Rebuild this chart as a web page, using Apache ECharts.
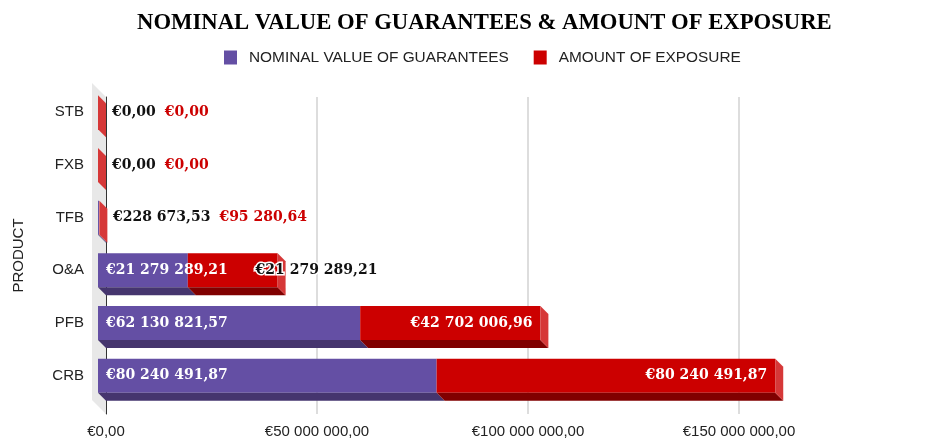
<!DOCTYPE html>
<html>
<head>
<meta charset="utf-8">
<script src="https://cdn.jsdelivr.net/npm/echarts@6/dist/echarts.min.js"></script>
<style>
html, body { margin: 0; padding: 0; background: #fff; }
#chart { width: 948px; height: 439px; }
</style>
</head>
<body>
<div id="chart"></div>
<script>
var categories = ['CRB', 'PFB', 'O&A', 'TFB', 'FXB', 'STB'];
var nominalValues = [80240491.87, 62130821.57, 21279289.21, 228673.53, 0, 0];
var exposureValues = [80240491.87, 42702006.96, 21279289.21, 95280.64, 0, 0];
var xTicks = [0, 50000000, 100000000, 150000000, 200000000];

var DEPTH = 8;
var LABEL_FONT = 'bold 14px "DejaVu Serif"';

// €80 240 491,87
function euro(v) {
    var parts = v.toFixed(2).split('.');
    return '€' + parts[0].replace(/\B(?=(\d{3})+(?!\d))/g, ' ') + ',' + parts[1];
}

var measureCtx = document.createElement('canvas').getContext('2d');
function textWidth(s) {
    measureCtx.font = LABEL_FONT;
    return measureCtx.measureText(s).width;
}

var seriesDefs = [
    { name: 'NOMINAL VALUE OF GUARANTEES', front: '#644fa4', bottom: '#45356e', end: '#7a66b8', top: false },
    { name: 'AMOUNT OF EXPOSURE', front: '#cc0000', bottom: '#800000', end: '#d63838', top: true }
];

function segData(k) {
    return categories.map(function (c, i) {
        var start = k === 0 ? 0 : nominalValues[i];
        var end = k === 0 ? nominalValues[i] : nominalValues[i] + exposureValues[i];
        return [start, end, i];
    });
}

// where the nominal label ended when it was put outside the bar
var outsideEnd = {};

function makeRender(k) {
    var def = seriesDefs[k];
    return function (params, api) {
        var i = api.value(2);
        var p0 = api.coord([api.value(0), i]);
        var p1 = api.coord([api.value(1), i]);
        var half = api.size([0, 1])[1] * 0.323;
        var c = p0[1];
        var x0 = p0[0] - DEPTH, x1 = p1[0] - DEPTH;
        var w = x1 - x0;
        var kids = [];
        if (w > 0.5) {
            kids.push({ type: 'rect', shape: { x: x0, y: c - half, width: w, height: half * 2 }, style: { fill: def.front } });
            kids.push({ type: 'polygon', shape: { points: [[x0, c + half], [x1, c + half], [x1 + DEPTH, c + half + DEPTH], [x0 + DEPTH, c + half + DEPTH]] }, style: { fill: def.bottom } });
        }
        if (def.top) {
            kids.push({ type: 'polygon', shape: { points: [[x1, c - half], [x1 + DEPTH, c - half + DEPTH], [x1 + DEPTH, c + half + DEPTH], [x1, c + half]] }, style: { fill: def.end } });
        }
        var val = k === 0 ? nominalValues[i] : exposureValues[i];
        var txt = euro(val);
        var tw = textWidth(txt);
        var st = { text: txt, font: LABEL_FONT, verticalAlign: 'middle', y: c };
        if (k === 0 && w > 40) {
            st.fill = '#fff';
            st.x = x0 + 8;
            st.align = 'left';
        } else if (k === 1 && w > tw + 16) {
            st.fill = '#fff';
            st.x = x1 - 8;
            st.align = 'right';
        } else if (k === 0) {
            st.fill = '#111';
            st.x = x1 + DEPTH + 6;
            st.align = 'left';
            outsideEnd[i] = st.x + tw;
        } else if (outsideEnd[i] != null) {
            st.fill = '#cc0000';
            st.x = outsideEnd[i] + 9;
            st.align = 'left';
        } else {
            st.fill = '#111';
            st.stroke = '#fff';
            st.lineWidth = 3;
            st.x = x1 - 22;
            st.align = 'left';
        }
        kids.push({ type: 'text', z2: 100, style: st });
        return { type: 'group', children: kids };
    };
}

var myChart = echarts.init(document.getElementById('chart'));
var option = {
    animation: false,
    backgroundColor: '#fff',
    title: {
        text: 'NOMINAL VALUE OF GUARANTEES & AMOUNT OF EXPOSURE',
        left: 132,
        top: 7,
        textStyle: { fontFamily: 'Liberation Serif', fontWeight: 'bold', fontSize: 22.7, color: '#000' }
    },
    legend: {
        top: 45,
        left: 219,
        itemWidth: 13,
        itemHeight: 14,
        itemGap: 25,
        icon: 'rect',
        textStyle: { fontFamily: 'Liberation Sans', fontSize: 15.4, color: '#222', padding: [0, 0, 0, 7] },
        data: seriesDefs.map(function (d) { return d.name; })
    },
    grid: [
        { left: 106, width: 844, top: 86, bottom: 37, outerBoundsMode: 'none' },
        { left: 106, width: 844, top: 97, bottom: 25, outerBoundsMode: 'none' }
    ],
    xAxis: [{
        gridIndex: 0, type: 'value', min: xTicks[0], max: xTicks[xTicks.length - 1], interval: xTicks[1] - xTicks[0],
        axisLine: { show: false }, axisTick: { show: false }, axisLabel: { show: false }, splitLine: { show: false }
    }, {
        gridIndex: 1, type: 'value', min: xTicks[0], max: xTicks[xTicks.length - 1], interval: xTicks[1] - xTicks[0],
        axisLine: { show: false }, axisTick: { show: false },
        axisLabel: { margin: 10, showMaxLabel: false, fontFamily: 'Liberation Sans', fontSize: 15, color: '#222', formatter: euro },
        splitLine: { show: true, lineStyle: { color: '#d2d2d2', width: 1.5 } }
    }],
    yAxis: [{
        gridIndex: 0, type: 'category', data: categories,
        axisLine: { show: false }, axisTick: { show: false },
        axisLabel: { margin: 22, fontFamily: 'Liberation Sans', fontSize: 15, color: '#222' }
    }, {
        gridIndex: 1, type: 'value', z: 1,
        name: 'PRODUCT', nameLocation: 'middle', nameGap: 80, nameRotate: 90,
        nameTextStyle: { fontFamily: 'Liberation Sans', fontSize: 15, color: '#222' },
        axisLine: { show: true, onZero: false, lineStyle: { color: '#333', width: 1 } },
        axisTick: { show: false }, axisLabel: { show: false }, splitLine: { show: false }
    }],
    series: [{
        type: 'custom',
        name: 'wall',
        xAxisIndex: 1, yAxisIndex: 1,
        z: 0,
        silent: true,
        data: [[0, 0]],
        renderItem: function (params, api) {
            var cs = params.coordSys;
            var d = 14;
            return {
                type: 'polygon',
                shape: { points: [[cs.x - d, cs.y - d], [cs.x, cs.y], [cs.x, cs.y + cs.height], [cs.x - d, cs.y + cs.height - d]] },
                style: { fill: '#e8e8e8' }
            };
        }
    }].concat(seriesDefs.map(function (d, k) {
        return {
            type: 'custom',
            name: d.name,
            xAxisIndex: 0, yAxisIndex: 0,
            z: 2,
            itemStyle: { color: d.front },
            encode: { x: [0, 1], y: 2 },
            data: segData(k),
            renderItem: makeRender(k)
        };
    }))
};
myChart.setOption(option);
</script>
</body>
</html>
